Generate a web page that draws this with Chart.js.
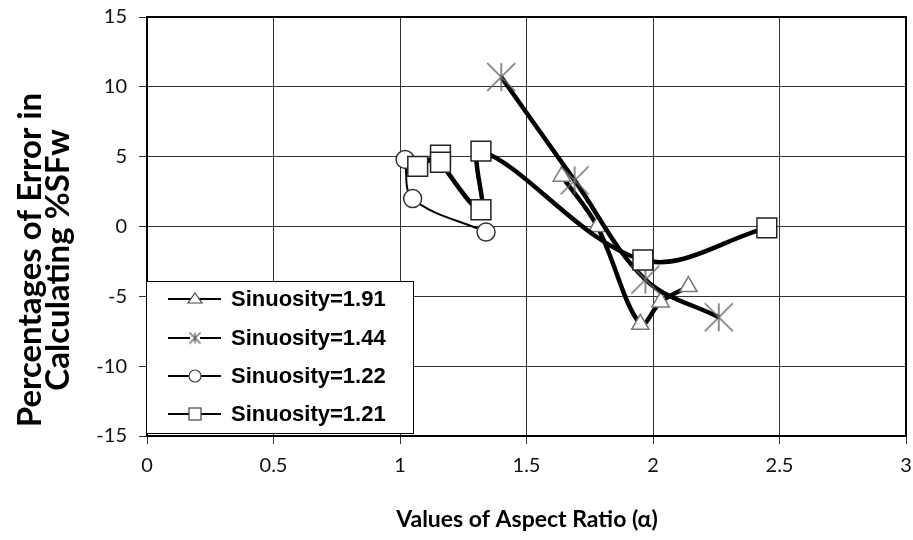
<!DOCTYPE html>
<html>
<head>
<meta charset="utf-8">
<script src="https://cdn.jsdelivr.net/npm/chart.js@4.4.1/dist/chart.umd.min.js"></script>
<style>
  html, body { margin: 0; padding: 0; background: #fff; }
  #wrap { width: 913px; height: 540px; position: relative; }
</style>
</head>
<body>
<div id="wrap"><canvas id="chart"></canvas></div>
<script>
// data
const seriesNames = ['Sinuosity=1.91', 'Sinuosity=1.44', 'Sinuosity=1.22', 'Sinuosity=1.21'];

const triX = [1.64, 1.78, 1.95, 2.03, 2.14];
const triY = [3.6, 0.0, -7.0, -5.4, -4.3];

const astX = [1.40, 1.69, 1.97, 2.26];
const astY = [10.7, 3.3, -3.8, -6.5];

const cirX = [1.02, 1.05, 1.34];
const cirY = [4.8, 2.0, -0.4];

const sqX = [1.07, 1.16, 1.16, 1.32, 1.32, 1.96, 2.45];
const sqY = [4.3, 5.1, 4.6, 1.2, 5.4, -2.4, -0.1];

const yTitle = ['Percentages of Error in', 'Calculating %SFw'];
const xTitle = 'Values of Aspect Ratio (\u03b1)';

function pts(xs, ys) {
  return xs.map((x, i) => ({ x: x, y: ys[i] }));
}

// excel style asterisk marker (vertical bar + X)
function asterisk(size, color, lw) {
  const c = document.createElement('canvas');
  c.width = size; c.height = size;
  const g = c.getContext('2d');
  const m = size / 2, r = size / 2 - 1;
  g.strokeStyle = color;
  g.lineWidth = lw;
  g.beginPath();
  g.moveTo(m, m - r); g.lineTo(m, m + r);
  g.moveTo(m - r, m - r); g.lineTo(m + r, m + r);
  g.moveTo(m + r, m - r); g.lineTo(m - r, m + r);
  g.stroke();
  return c;
}
const astBig = asterisk(30, '#6a6a6a', 1.5);
const astSmall = asterisk(13, '#555', 1.2);

// frame, y title, x title and the boxed legend
const decor = {
  id: 'decor',
  afterDatasetsDraw(chart) {
    const ctx = chart.ctx;
    const a = chart.chartArea;
    ctx.save();
    ctx.strokeStyle = '#000';
    ctx.lineWidth = 2;
    ctx.strokeRect(a.left, a.top, a.right - a.left, a.bottom - a.top);

    // legend box
    const lx = 146, ly = 281, lw = 267, lh = 152;
    ctx.fillStyle = '#fff';
    ctx.fillRect(lx, ly, lw, lh);
    ctx.lineWidth = 1;
    ctx.strokeStyle = '#000';
    ctx.strokeRect(lx + 0.5, ly + 0.5, lw, lh);

    const rowY = [299, 338, 376, 414];
    ctx.font = 'bold 22px "Liberation Sans", Arial, sans-serif';
    ctx.textBaseline = 'middle';
    ctx.textAlign = 'left';
    seriesNames.forEach((name, i) => {
      const y = rowY[i];
      ctx.strokeStyle = '#000';
      ctx.lineWidth = 2;
      ctx.beginPath();
      ctx.moveTo(168, y); ctx.lineTo(221, y);
      ctx.stroke();
      ctx.lineWidth = 1.2;
      ctx.fillStyle = '#fff';
      ctx.strokeStyle = '#444';
      const cx = 195;
      if (i === 0) {
        ctx.beginPath();
        ctx.moveTo(cx, y - 6); ctx.lineTo(cx + 7, y + 4); ctx.lineTo(cx - 7, y + 4); ctx.closePath();
        ctx.fill(); ctx.stroke();
      } else if (i === 1) {
        ctx.fillRect(cx - 5, y - 5, 10, 10);
        ctx.drawImage(astSmall, cx - 6.5, y - 6.5);
      } else if (i === 2) {
        ctx.beginPath();
        ctx.arc(cx, y, 6, 0, Math.PI * 2);
        ctx.fill(); ctx.stroke();
      } else {
        ctx.fillRect(cx - 6, y - 6, 12, 12);
        ctx.strokeRect(cx - 6, y - 6, 12, 12);
      }
      ctx.fillStyle = '#000';
      ctx.fillText(name, 231, y + 1);
    });

    // axis titles
    ctx.fillStyle = '#000';
    ctx.textAlign = 'center';
    ctx.textBaseline = 'middle';
    ctx.font = 'bold 23px Lato, sans-serif';
    ctx.fillText(xTitle, 527, 520);
    ctx.save();
    ctx.translate(30, 260);
    ctx.rotate(-Math.PI / 2);
    ctx.font = 'bold 33px Lato, sans-serif';
    ctx.fillText(yTitle[0], 0, 0);
    ctx.fillText(yTitle[1], 0, 28);
    ctx.restore();
    ctx.restore();
  }
};

const tickFont = { family: 'Lato, sans-serif', size: 20 };

new Chart(document.getElementById('chart'), {
  type: 'scatter',
  data: {
    datasets: [
      {
        label: seriesNames[0], data: pts(triX, triY), showLine: true, order: 4,
        borderColor: '#000', borderWidth: 4.5, tension: 0.35,
        pointStyle: 'triangle', pointRadius: 10, pointBackgroundColor: '#fff',
        pointBorderColor: '#777', pointBorderWidth: 1.5
      },
      {
        label: seriesNames[1], data: pts(astX, astY), showLine: true, order: 3,
        borderColor: '#000', borderWidth: 4.5, tension: 0.35,
        pointStyle: astBig, pointRadius: 15
      },
      {
        label: seriesNames[2], data: pts(cirX, cirY), showLine: true, order: 2,
        borderColor: '#000', borderWidth: 2, tension: 0.35,
        pointStyle: 'circle', pointRadius: 9, pointBackgroundColor: '#fff',
        pointBorderColor: '#333', pointBorderWidth: 1.5
      },
      {
        label: seriesNames[3], data: pts(sqX, sqY), showLine: true, order: 1,
        borderColor: '#000', borderWidth: 4.5, tension: 0.35,
        pointStyle: 'rect', pointRadius: 14, pointBackgroundColor: '#fff',
        pointBorderColor: '#222', pointBorderWidth: 1.5
      }
    ]
  },
  options: {
    responsive: true,
    maintainAspectRatio: false,
    animation: false,
    layout: { autoPadding: false, padding: { top: 17, right: 7, left: 0, bottom: 0 } },
    plugins: {
      legend: { display: false },
      tooltip: { enabled: false }
    },
    scales: {
      x: {
        type: 'linear', min: 0, max: 3,
        ticks: { stepSize: 0.5, font: tickFont, color: '#111', padding: 10, maxRotation: 0, autoSkip: false,
                 callback: v => String(v) },
        grid: { color: '#333', lineWidth: 1, tickLength: 8 },
        border: { display: false },
        afterFit: s => { s.height = 104; s.paddingLeft = 0; s.paddingRight = 0; }
      },
      y: {
        min: -15, max: 15,
        ticks: { stepSize: 5, font: tickFont, color: '#111', padding: 12, callback: v => String(v) },
        grid: { color: '#333', lineWidth: 1, tickLength: 8 },
        border: { display: false },
        afterFit: s => { s.width = 147; s.paddingTop = 0; s.paddingBottom = 0; }
      }
    }
  },
  plugins: [decor]
});
</script>
</body>
</html>
